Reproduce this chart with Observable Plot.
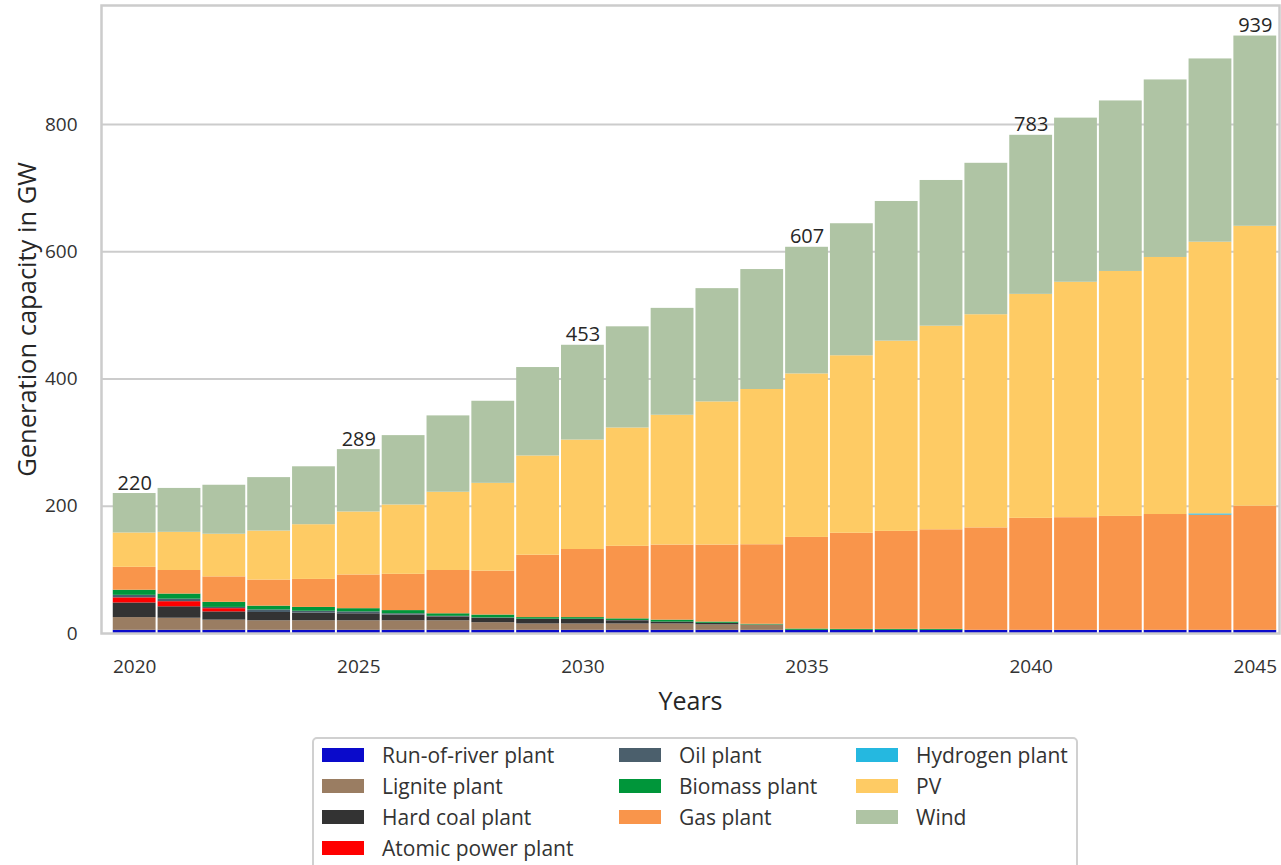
<!DOCTYPE html>
<html>
<head>
<meta charset="utf-8">
<script src="https://cdn.jsdelivr.net/npm/d3@7"></script>
<script src="https://cdn.jsdelivr.net/npm/@observablehq/plot@0.6"></script>
<style>
  html, body { margin: 0; padding: 0; background: #fff; overflow: hidden; }
  body { width: 1281px; height: 865px; font-family: "Open Sans", "Noto Sans", sans-serif; }
  #chart svg { display: block; }
  #legend {
    position: absolute; left: 312px; top: 737px; width: 766px; height: 140px;
    border: 2px solid #d0d0d0; border-radius: 5px; box-sizing: border-box;
    display: flex; padding: 0 0 0 8px; color: #333; font-size: 21px;
  }
  .col { display: flex; flex-direction: column; }
  .item { display: flex; align-items: center; height: 31px; }
  .sw { width: 42px; height: 14px; margin-right: 18px; flex: none; }
</style>
</head>
<body>
<div id="chart"></div>
<div id="legend"></div>
<script>
// Installed generation capacity by technology, 2020–2045 (GW)
const years = d3.range(2020, 2046);

const seriesNames = [
  "Run-of-river plant", "Lignite plant", "Hard coal plant", "Atomic power plant",
  "Oil plant", "Biomass plant", "Gas plant", "Hydrogen plant", "PV", "Wind"
];
const seriesColors = [
  "#0a0acb", "#9a7d62", "#333333", "#ff0000",
  "#4b5f6c", "#00963a", "#f9954b", "#25b8e0", "#fecb64", "#afc4a4"
];

const runOfRiver = [5,5,5,5,5,5,5,5,5,5,5,5,5,5,5,5,5,5,5,5,5,5,5,5,5,5];
const lignite    = [20,19,16,15,15,15,15,15,12,10,10,10,10,8.5,8.5,0,0,0,0,0,0,0,0,0,0,0];
const hardCoal   = [23,18,13,13,12,11,9,6,7,7,7,5,3,2.5,0,0,0,0,0,0,0,0,0,0,0,0];
const atomic     = [8,8,5,0,0,0,0,0,0,0,0,0,0,0,0,0,0,0,0,0,0,0,0,0,0,0];
const oil        = [4,4,2,4,3,3,2,1,0.5,0.5,0.5,0.5,0,0,0,0,0,0,0,0,0,0,0,0,0,0];
const biomass    = [8,8,8,6,6,5,5,4,4.5,2.5,2.5,2.5,3,2,1,2,1.5,1.5,1.5,0,0,0,0,0,0,0];
const gas        = [36,37,40,41,44,53,57,68,69,98,107,114,118,121,125,144,151,154,156.5,161,176,177,179,182,181,195];
const hydrogen   = [0,0,0,0,0,0,0,0,0,0,0,0,0,0,0,0,0,0,0,0,0,0,0,0,2,0];
const pv         = [54,60,67,77,86,99,109,123,138,156,172,186,204,225,244,257,279,299,320,335,352,370,385,404,427,440];
const wind       = [62,69,77,84,91,98,109,120,129,139,149,159,168,178,188.5,199,207.5,219.5,229,238,250,258,268,279,288,299];

// Years whose total is annotated above the bar
const labelYears = [2020, 2025, 2030, 2035, 2040, 2045];

const seriesValues = [runOfRiver, lignite, hardCoal, atomic, oil, biomass, gas, hydrogen, pv, wind];

// Long table, stacked bottom-up in series order
const rows = [];
years.forEach((year, i) => {
  seriesNames.forEach((name, s) => {
    rows.push({year, series: name, value: seriesValues[s][i]});
  });
});
const totals = years.map((year, i) => ({
  year, total: d3.sum(seriesValues, v => v[i])
}));

const fontFamily = '"Open Sans", "Noto Sans", sans-serif';

const chart = Plot.plot({
  width: 1281,
  height: 720,
  marginLeft: 101,
  marginRight: 2,
  marginTop: 5,
  marginBottom: 87,
  style: {fontFamily, fontSize: "19px", color: "#333", background: "white"},
  x: {domain: [2019.26, 2045.54]},
  y: {domain: [0, 987]},
  color: {domain: seriesNames, range: seriesColors},
  marks: [
    Plot.ruleY([200, 400, 600, 800], {stroke: "#cccccc", strokeWidth: 2}),
    Plot.rectY(rows, Plot.stackY({
      x1: d => d.year - 0.5,
      x2: d => d.year + 0.5,
      y: "value",
      fill: "series",
      insetLeft: 1,
      insetRight: 1
    })),
    Plot.frame({stroke: "#cccccc", strokeWidth: 2.5}),
    Plot.axisY({ticks: [0, 200, 400, 600, 800], tickSize: 0, tickPadding: 24, label: null, fontSize: 19}),
    Plot.axisX({ticks: [2020, 2025, 2030, 2035, 2040, 2045], tickFormat: d => String(d), tickSize: 0, tickPadding: 26, label: null, fontSize: 19}),
    Plot.text(totals.filter(d => labelYears.includes(d.year)), {
      x: "year", y: "total", text: d => String(Math.round(d.total)),
      lineAnchor: "bottom", dy: -4, fontSize: 20, fill: "#262626"
    }),
    Plot.text(["Years"], {frameAnchor: "bottom", lineAnchor: "middle", dy: 68, fontSize: 25, fill: "#262626"}),
    Plot.text(["Generation capacity in GW"], {
      frameAnchor: "left", textAnchor: "middle", dx: -74, rotate: -90, fontSize: 25.5, fill: "#262626"
    })
  ]
});
document.getElementById("chart").append(chart);

// Legend, three columns in stacking order
const columns = [[0, 1, 2, 3], [4, 5, 6], [7, 8, 9]];
const colWidths = [297, 237, 220];
const legend = document.getElementById("legend");
columns.forEach((idx, c) => {
  const col = document.createElement("div");
  col.className = "col";
  col.style.width = colWidths[c] + "px";
  idx.forEach(s => {
    const item = document.createElement("div");
    item.className = "item";
    const sw = document.createElement("span");
    sw.className = "sw";
    sw.style.background = seriesColors[s];
    const label = document.createElement("span");
    label.textContent = seriesNames[s];
    item.append(sw, label);
    col.append(item);
  });
  legend.append(col);
});
</script>
</body>
</html>
